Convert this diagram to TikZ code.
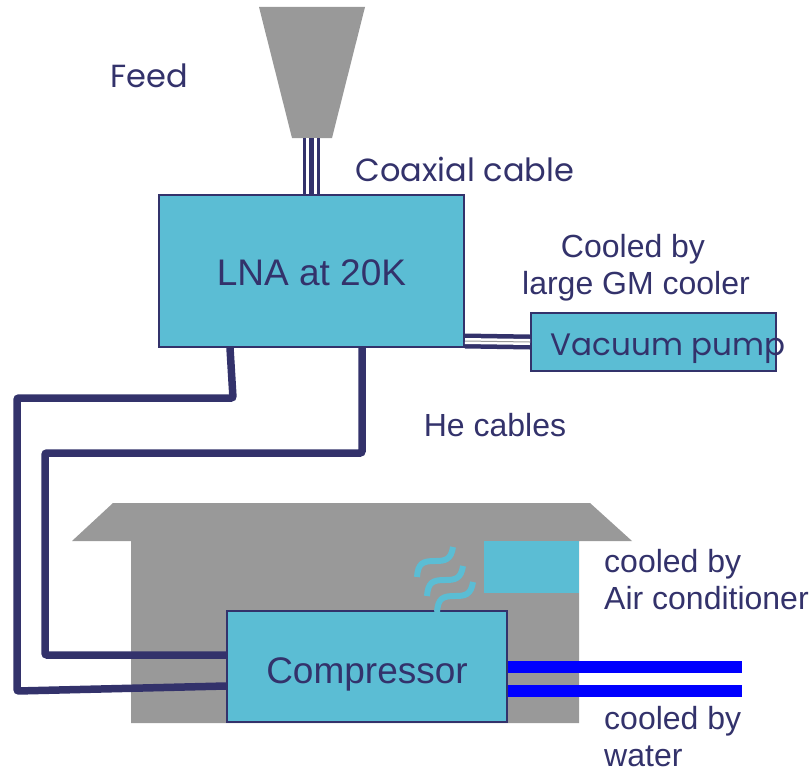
\documentclass[tikz,border=0pt]{standalone}
\usepackage{fontspec}
\setmainfont{Liberation Sans}
\newfontfamily\gothicfont{Poppins}
\usetikzlibrary{positioning}

\definecolor{navy}{HTML}{33326B}
\definecolor{teal}{HTML}{5BBDD4}
\definecolor{stone}{HTML}{999999}
\definecolor{pipeblue}{HTML}{0000FF}

\tikzset{
  box/.style={draw=navy, line width=2pt, fill=teal, text=navy, inner sep=0pt},
  label/.style={text=navy, inner sep=0pt, font=\fontsize{32}{37}\selectfont, align=left},
  gothic/.style={text=navy, inner sep=0pt, font=\gothicfont\fontsize{32}{37}\selectfont},
  hecable/.style={draw=navy, line width=7.5pt, rounded corners=2pt},
  pipe/.style={draw=pipeblue, line width=12pt},
  steam/.style={draw=teal, line width=6pt}
}

\begin{document}
\begin{tikzpicture}[x=1pt, y=-1pt]

  \useasboundingbox (0,0) rectangle (810,768);

  \fill [stone] (113,503) -- (590,503) -- (632,541) -- (579,541) -- (579,723)
    -- (131,723) -- (131,541) -- (72,541) -- cycle;
  \fill [stone] (259,7) -- (365,7) -- (332,138) -- (292,138) -- cycle;
  \coordinate (horn) at (311.5,138);

  \node (lna) [box, minimum width=305pt, minimum height=152pt, font=\fontsize{37}{40}\selectfont] at (311.5,271) {\raisebox{-2pt}[\height][\depth]{LNA at 20K}};
  \node (pump) [box, minimum width=245pt, minimum height=58pt] at (653.5,342) {};
  \node (comp) [box, minimum width=280pt, minimum height=111pt] at (367,666.5) {};
  \node (cooler) [fill=teal, inner sep=0pt, minimum width=95pt, minimum height=52pt] at (531.5,567) {};

  \foreach \w/\c in {17pt/navy, 11pt/white, 5pt/navy}
    \draw [line width=\w, \c] (horn) -- (lna.north);
  \foreach \w/\c in {15pt/navy, 6pt/white, 1pt/stone}
    \draw [line width=\w, \c] ([yshift=7pt]lna.south east) -- (pump.west);

  \draw [hecable] ([xshift=-81.5pt]lna.south) -- (233,398) -- (17,398) -- (17,691) -- ([yshift=-19.5pt]comp.west);
  \draw [hecable] ([xshift=50.5pt]lna.south) -- (362,453) -- (45,453) -- (45,655) -- ([yshift=11.5pt]comp.west);

  \draw [pipe] ([yshift=-0.5pt]comp.east) -- ++(234,0);
  \draw [pipe] ([yshift=-24.5pt]comp.east) -- ++(234,0);

  \node (complabel) [text=navy, inner sep=0pt, font=\fontsize{37}{40}\selectfont] at (367,674) {Compressor};
  \node (pumplabel) [gothic, font=\gothicfont\fontsize{31}{37}\selectfont] at (668,349) {Vacuum pump};

  \foreach \x/\y in {417/577, 427/596, 437/612}
    \draw [steam] (\x,\y) .. controls (\x+1,\y-14) and (\x+6,\y-16) .. (\x+18,\y-16)
      .. controls (\x+28,\y-16) and (\x+34,\y-17) .. (\x+36,\y-30);

  \node (feedlabel) [gothic] at (149,76) {Feed};
  \node (coaxlabel) [gothic] at (465,169) {Coaxial cable};
  \node (coolerlabel) [label, align=center] at (636,268) {Cooled by\hspace*{6pt}\\large GM cooler};
  \node (helabel) [label] at (495,425) {He cables};
  \node (airlabel) [label, anchor=west] at (604,580) {cooled by\\Air conditioner};
  \node (waterlabel) [label, anchor=west] at (604,737) {cooled by\\water};

\end{tikzpicture}
\end{document}
